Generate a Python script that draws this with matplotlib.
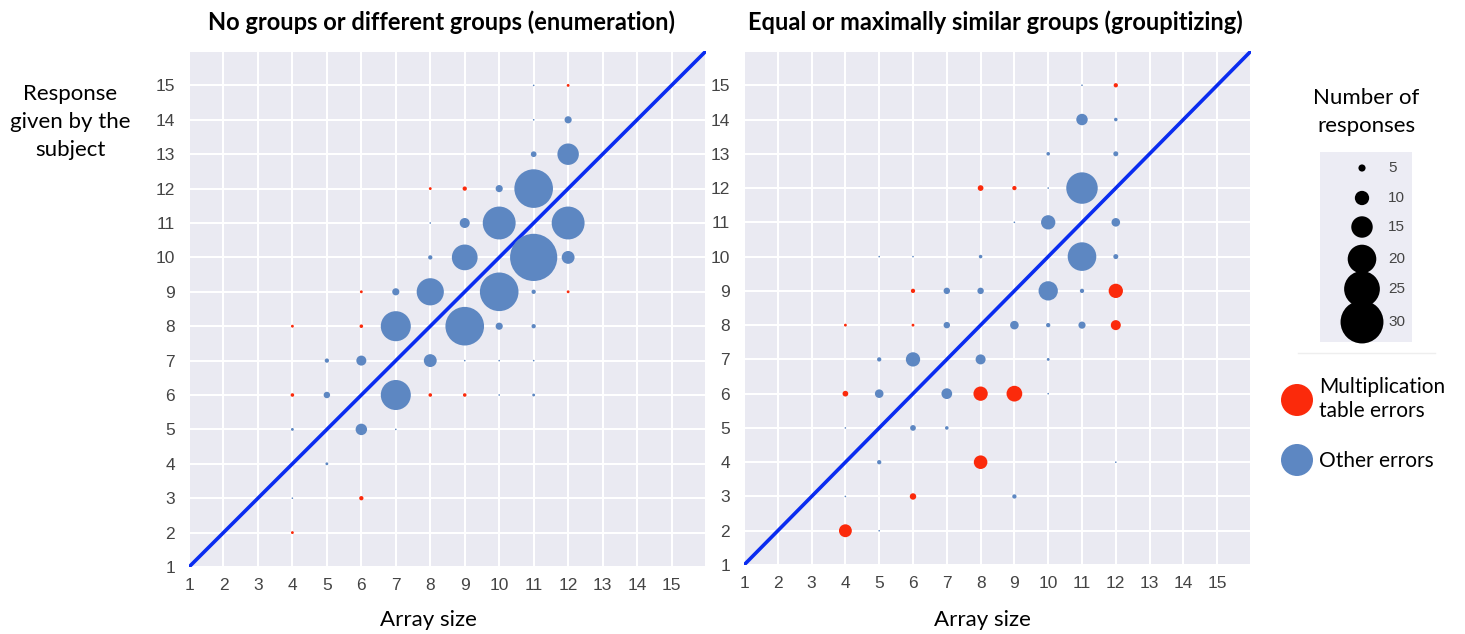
import numpy as np
import matplotlib.pyplot as plt
from matplotlib.patches import Rectangle

# -----------------------------
# Data: (array size, response, number of responses, error type)
# kind: 'm' = multiplication table error, 'o' = other error
# -----------------------------
enum_x = [11, 12, 11, 12, 11, 12, 8, 9, 10, 11, 8, 9, 10, 12, 8, 9, 11, 12,
          6, 7, 8, 10, 11, 12, 4, 6, 7, 9, 10, 11,
          5, 6, 8, 9, 10, 11, 4, 5, 7, 8, 9, 10, 11, 4, 6, 7, 5, 4, 6, 4]
enum_y = [15, 15, 14, 14, 13, 13, 12, 12, 12, 12, 11, 11, 11, 11, 10, 10, 10, 10,
          9, 9, 9, 9, 9, 9, 8, 8, 8, 8, 8, 8,
          7, 7, 7, 7, 7, 7, 6, 6, 6, 6, 6, 6, 6, 5, 5, 5, 4, 3, 3, 2]
enum_n = [1, 2, 1, 5, 4, 15, 2, 3, 5, 27, 1, 7, 23, 23, 3, 18, 33, 9,
          2, 5, 19, 27, 3, 2, 2, 2.5, 21, 27, 5, 3,
          3, 7, 9, 1, 1, 1, 2.5, 4.5, 21, 2.5, 2.5, 1, 2, 2, 8, 1, 2, 1, 3, 2]
enum_kind = ['o', 'm', 'o', 'o', 'o', 'o', 'm', 'm', 'o', 'o', 'o', 'o', 'o', 'o', 'o', 'o', 'o', 'o',
             'm', 'o', 'o', 'o', 'o', 'm', 'm', 'm', 'o', 'o', 'o', 'o',
             'o', 'o', 'o', 'o', 'o', 'o', 'm', 'o', 'o', 'm', 'm', 'o', 'o', 'o', 'o', 'o', 'o', 'o', 'm', 'm']

grp_x = [11, 12, 11, 12, 10, 12, 8, 9, 10, 11, 9, 10, 12, 5, 6, 8, 11, 12,
         6, 7, 8, 10, 11, 12, 4, 6, 7, 9, 10, 11, 12,
         5, 6, 8, 10, 4, 5, 7, 8, 9, 10, 4, 6, 7, 5, 8, 12, 4, 6, 9, 4, 5]
grp_y = [15, 15, 14, 14, 13, 13, 12, 12, 12, 12, 11, 11, 11, 10, 10, 10, 10, 10,
         9, 9, 9, 9, 9, 9, 8, 8, 8, 8, 8, 8, 8,
         7, 7, 7, 7, 6, 6, 6, 6, 6, 6, 5, 5, 5, 4, 4, 4, 3, 3, 3, 2, 2]
grp_n = [1, 3, 8, 2.5, 2.5, 3.5, 4, 3, 1, 22, 1, 10, 6, 1, 1, 2.5, 20, 3.5,
         3, 4.5, 4.5, 13.5, 3, 10, 2, 2, 4.5, 6, 3, 5, 7,
         3, 10, 7, 2, 4, 6, 7.5, 10, 11, 1, 1, 4, 2.5, 3, 9.5, 1, 1, 4.5, 3, 9, 1]
grp_kind = ['o', 'm', 'o', 'o', 'o', 'o', 'm', 'm', 'o', 'o', 'o', 'o', 'o', 'o', 'o', 'o', 'o', 'o',
            'm', 'o', 'o', 'o', 'o', 'm', 'm', 'm', 'o', 'o', 'o', 'o', 'm',
            'o', 'o', 'o', 'o', 'm', 'o', 'o', 'm', 'm', 'o', 'o', 'o', 'o', 'o', 'm', 'o', 'o', 'm', 'o', 'm', 'o']

legend_counts = [5, 10, 15, 20, 25, 30]
ticks = list(range(1, 16))

titles = ["No groups or different groups (enumeration)",
          "Equal or maximally similar groups (groupitizing)"]

BLUE = '#5d87c2'
RED = '#fb2a0b'
LINE = '#0a2cf0'
BG = '#eaeaf2'
DPI = 100
PX_PER_COUNT = 1.43  # circle diameter in pixels per response


def size_of(n):
    # scatter size (points^2) for a count, diameter grows linearly with count
    d_pt = np.maximum(PX_PER_COUNT * np.asarray(n, dtype=float), 1.6) * 72 / DPI
    return d_pt ** 2


def bubble_panel(ax, xs, ys, ns, kinds):
    ax.set_facecolor(BG)
    ax.set_xlim(1, 16)
    ax.set_ylim(1, 16)
    for v in range(1, 17):
        ax.axvline(v, color='white', lw=1.5, zorder=1)
        ax.axhline(v, color='white', lw=1.5, zorder=1)
    ax.plot([1, 16], [1, 16], color=LINE, lw=2.6, zorder=3)
    xs, ys, ns = np.array(xs), np.array(ys), np.array(ns, dtype=float)
    cols = [RED if k == 'm' else BLUE for k in kinds]
    ax.scatter(xs, ys, s=size_of(ns), c=cols, edgecolors='none', zorder=4)
    ax.set_xticks(ticks)
    ax.set_yticks(ticks)
    ax.tick_params(axis='x', length=0, labelsize=12.5, labelcolor='#444444', pad=8)
    ax.tick_params(axis='y', length=0, labelsize=12.5, labelcolor='#444444', pad=10)
    for lab in ax.get_xticklabels() + ax.get_yticklabels():
        lab.set_fontfamily('Liberation Sans')
    for s in ax.spines.values():
        s.set_visible(False)


fig = plt.figure(figsize=(14.65, 6.34), dpi=DPI)
ax1 = fig.add_axes([189 / 1465, 67 / 634, 517 / 1465, 516 / 634])
ax2 = fig.add_axes([744 / 1465, 69 / 634, 507 / 1465, 514 / 634])
bubble_panel(ax1, enum_x, enum_y, enum_n, enum_kind)
bubble_panel(ax2, grp_x, grp_y, grp_n, grp_kind)

# overlay in pixel coordinates for titles, side texts and legend
ov = fig.add_axes([0, 0, 1, 1], zorder=10)
ov.set_xlim(0, 1465)
ov.set_ylim(634, 0)
ov.axis('off')

ov.text(441, 22, titles[0], ha='center', va='center', fontsize=17,
        fontweight='bold', family='Lato')
ov.text(995, 22, titles[1], ha='center', va='center', fontsize=17,
        fontweight='bold', family='Lato')
ov.text(428, 620, "Array size", ha='center', va='center', fontsize=16, family='Lato')
ov.text(982, 620, "Array size", ha='center', va='center', fontsize=16, family='Lato')

ov.text(70, 122, "Response\ngiven by the\nsubject", ha='center', va='center',
        fontsize=16, family='Lato', linespacing=1.5)

ov.text(1366, 112, "Number of\nresponses", ha='center', va='center',
        fontsize=16, family='Lato', linespacing=1.5)
ov.add_patch(Rectangle((1320, 152), 92, 190, facecolor='#ececf4', edgecolor='none'))
ov.plot([1298, 1435], [353, 353], color='#eeeeee', lw=1)
leg_y = [168, 198, 227, 259, 289, 322]
ov.scatter([1362] * len(legend_counts), leg_y, s=size_of(legend_counts), c='black',
           edgecolors='none', zorder=11)
for cnt, yy in zip(legend_counts, leg_y):
    ov.text(1388, yy, str(cnt), ha='left', va='center', fontsize=11,
            color='#444444', family='Liberation Sans', zorder=12)

ov.scatter([1297, 1297], [400, 460], s=(32 * 72 / DPI) ** 2, c=[RED, BLUE],
           edgecolors='none')
ov.text(1319, 399, "Multiplication\ntable errors", ha='left', va='center',
        fontsize=15, family='Lato', linespacing=1.25)
ov.text(1319, 461, "Other errors", ha='left', va='center', fontsize=15, family='Lato')

fig.savefig("out.png", dpi=DPI)
